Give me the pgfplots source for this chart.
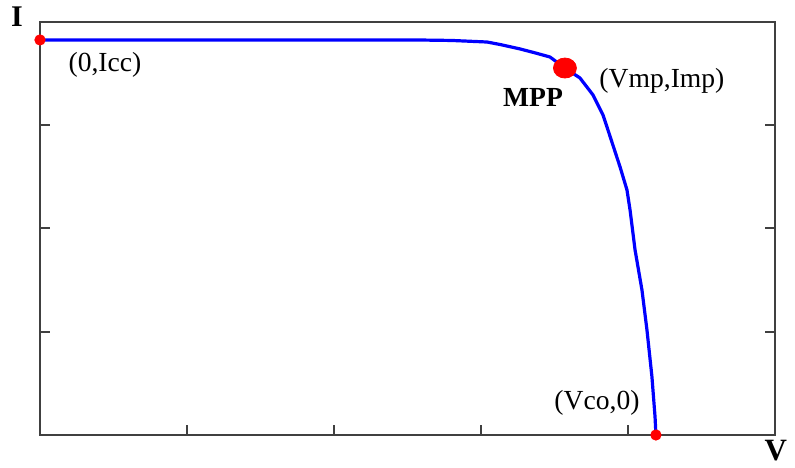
\documentclass[border=0pt]{standalone}
\usepackage{fontspec}
\setmainfont{Liberation Serif}
\usepackage{pgfplots}
\pgfplotsset{compat=1.18}
\definecolor{axisgray}{HTML}{404040}

\begin{document}
\begin{tikzpicture}
\begin{axis}[
  scale only axis,
  width=367.5pt, height=206.5pt,
  xmin=0, xmax=5, ymin=0, ymax=4,
  xtick={1,2,3,4}, ytick={1,2,3},
  xticklabels={}, yticklabels={},
  xtick pos=bottom, ytick pos=both,
  tick align=inside,
  major tick length=5pt,
  axis line style={axisgray, line width=1pt},
  every tick/.style={axisgray, line width=1pt},
  clip=false,
]
% I-V curve of the cell
\addplot[blue, line width=1.6pt, line join=round] coordinates {
  (0,3.826) (2.551,3.826) (2.800,3.821) (3.041,3.806) (3.129,3.782)
  (3.265,3.739) (3.370,3.700) (3.469,3.661) (3.571,3.554) (3.673,3.458)
  (3.762,3.293) (3.830,3.099) (3.857,2.983) (3.946,2.596) (3.993,2.373)
  (4.014,2.179) (4.048,1.792) (4.095,1.404) (4.129,1.017) (4.163,0.562)
  (4.184,0.174) (4.190,0)};
% short circuit and open circuit points
\addplot[only marks, mark=*, mark size=2.6pt, color=red] coordinates {
  (0,3.826) (4.190,0)};
% maximum power point
\addplot[only marks, mark=*, mark size=5pt, color=red,
  mark options={xscale=1.15}] coordinates {(3.571,3.554)};
% labels
\node[font=\fontsize{15}{17}\selectfont\bfseries] at (axis cs:-0.156,4.048) {I};
\node[font=\fontsize{15.5}{17}\selectfont\bfseries, anchor=east] at (axis cs:5.130,-0.150) {V};
\node[font=\fontsize{13.8}{16}\selectfont] at (axis cs:0.442,3.584) {(0,Icc)};
\node[font=\fontsize{13.8}{16}\selectfont] at (axis cs:4.231,3.429) {(Vmp,Imp)};
\node[font=\fontsize{13.8}{16}\selectfont\bfseries] at (axis cs:3.354,3.270) {MPP};
\node[font=\fontsize{13.8}{16}\selectfont] at (axis cs:3.789,0.310) {(Vco,0)};
\coordinate (bl) at (axis cs:-0.272,-0.3196);
\coordinate (tr) at (axis cs:5.136,4.213);
\end{axis}
\pgfresetboundingbox
\path[use as bounding box] (bl) rectangle (tr);
\end{tikzpicture}
\end{document}
